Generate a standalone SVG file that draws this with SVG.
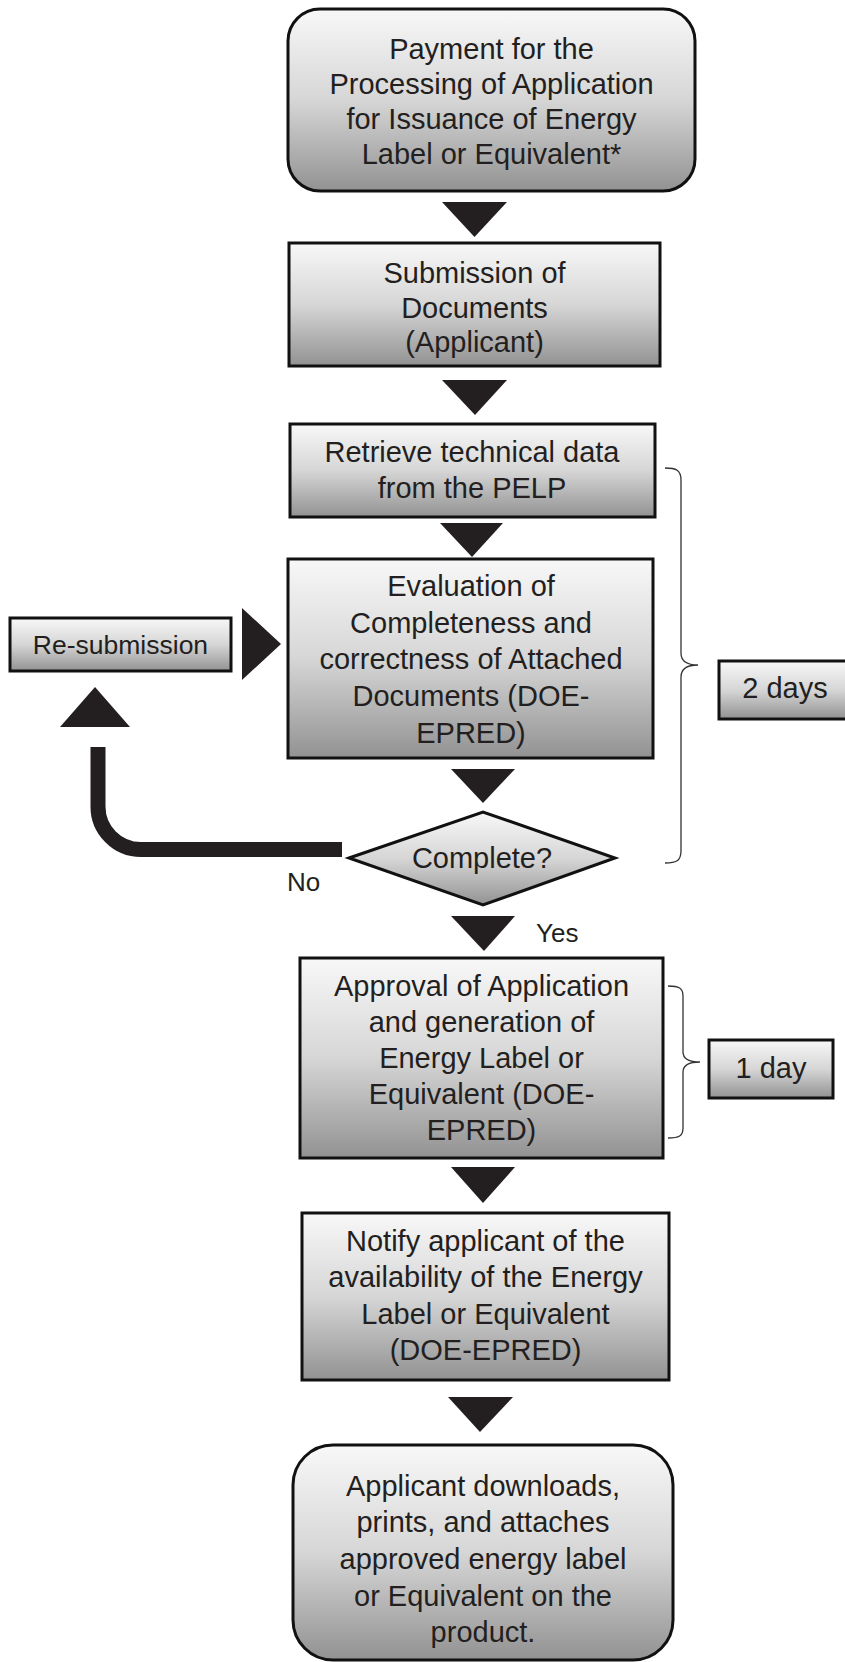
<svg xmlns="http://www.w3.org/2000/svg" width="845" height="1662" viewBox="0 0 845 1662">
<defs>
<linearGradient id="g" x1="0" y1="0" x2="0" y2="1">
<stop offset="0" stop-color="#f8f8f8"/>
<stop offset="0.5" stop-color="#d6d6d6"/>
<stop offset="1" stop-color="#929292"/>
</linearGradient>
</defs>
<style>
.box{fill:url(#g);stroke:#111;stroke-width:3}
.t{font-family:"Liberation Sans",Arial,sans-serif;font-size:29px;fill:#231f20;text-anchor:middle}
.s{font-family:"Liberation Sans",Arial,sans-serif;font-size:26px;fill:#231f20}
.arr{fill:#231f20}
.br{fill:none;stroke:#333;stroke-width:1.3}
</style>
<g id="connectors">
<polygon class="arr" points="442,202 507,202 474.5,237"/>
<polygon class="arr" points="442,380 507,380 475,415"/>
<polygon class="arr" points="440,523 503,523 472,557"/>
<polygon class="arr" points="451,769 515,769 483,803"/>
<polygon class="arr" points="451,916 515,916 484,951"/>
<polygon class="arr" points="451,1167 515,1167 483,1203"/>
<polygon class="arr" points="448,1397 513,1397 480,1432"/>
<polygon class="arr" points="242,608 242,680 281,644"/>
<polygon class="arr" points="60,727 130,727 95,687"/>
<path d="M98,747 V806 A43,43 0 0 0 141,849.5 H342" fill="none" stroke="#231f20" stroke-width="15"/>
<path class="br" d="M665,468 C676,468 681,470 681,480 V653 C681,662 688,665 698,665 C688,665 681,668 681,677 V851 C681,861 676,863 665,863"/>
<path class="br" d="M668,986 C679,986 683,988 683,996 V1052 C683,1059 690,1062 700,1062 C690,1062 683,1065 683,1072 V1128 C683,1136 679,1138 668,1138"/>
<text class="s" x="287" y="891">No</text>
<text class="s" x="536" y="942">Yes</text>
</g>
<g id="n1">
<rect class="box" x="288" y="9" width="407" height="182" rx="32"/>
<text class="t" x="491.5" y="59">Payment for the</text>
<text class="t" x="491.5" y="94">Processing of Application</text>
<text class="t" x="491.5" y="129">for Issuance of Energy</text>
<text class="t" x="491.5" y="164">Label or Equivalent*</text>
</g>
<g id="n2">
<rect class="box" x="289" y="243" width="371" height="123"/>
<text class="t" x="474.5" y="283">Submission of</text>
<text class="t" x="474.5" y="318">Documents</text>
<text class="t" x="474.5" y="352">(Applicant)</text>
</g>
<g id="n3">
<rect class="box" x="290" y="424" width="365" height="93"/>
<text class="t" x="472" y="462">Retrieve technical data</text>
<text class="t" x="472" y="498">from the PELP</text>
</g>
<g id="n4">
<rect class="box" x="288" y="559" width="365" height="199"/>
<text class="t" x="471" y="596">Evaluation of</text>
<text class="t" x="471" y="633">Completeness and</text>
<text class="t" x="471" y="669">correctness of Attached</text>
<text class="t" x="471" y="706">Documents (DOE-</text>
<text class="t" x="471" y="743">EPRED)</text>
</g>
<g id="n5">
<rect class="box" x="10" y="618" width="221" height="53"/>
<text class="t" x="120.5" y="654" style="font-size:26.5px">Re-submission</text>
</g>
<g id="n6">
<polygon class="box" points="349,858 483,812 615,858 483,905"/>
<text class="t" x="482" y="868">Complete?</text>
</g>
<g id="n7">
<rect class="box" x="300" y="958" width="363" height="200"/>
<text class="t" x="481.5" y="996">Approval of Application</text>
<text class="t" x="481.5" y="1032">and generation of</text>
<text class="t" x="481.5" y="1068">Energy Label or</text>
<text class="t" x="481.5" y="1104">Equivalent (DOE-</text>
<text class="t" x="481.5" y="1140">EPRED)</text>
</g>
<g id="n8">
<rect class="box" x="302" y="1213" width="367" height="167"/>
<text class="t" x="485.5" y="1251">Notify applicant of the</text>
<text class="t" x="485.5" y="1287">availability of the Energy</text>
<text class="t" x="485.5" y="1324">Label or Equivalent</text>
<text class="t" x="485.5" y="1360">(DOE-EPRED)</text>
</g>
<g id="n9">
<rect class="box" x="293" y="1445" width="380" height="215" rx="40"/>
<text class="t" x="483" y="1496">Applicant downloads,</text>
<text class="t" x="483" y="1532">prints, and attaches</text>
<text class="t" x="483" y="1569">approved energy label</text>
<text class="t" x="483" y="1606">or Equivalent on the</text>
<text class="t" x="483" y="1642">product.</text>
</g>
<g id="d2">
<rect class="box" x="719" y="661" width="133" height="58"/>
<text class="t" x="785" y="698">2 days</text>
</g>
<g id="d1">
<rect class="box" x="709" y="1040" width="124" height="58"/>
<text class="t" x="771" y="1078">1 day</text>
</g>
</svg>
